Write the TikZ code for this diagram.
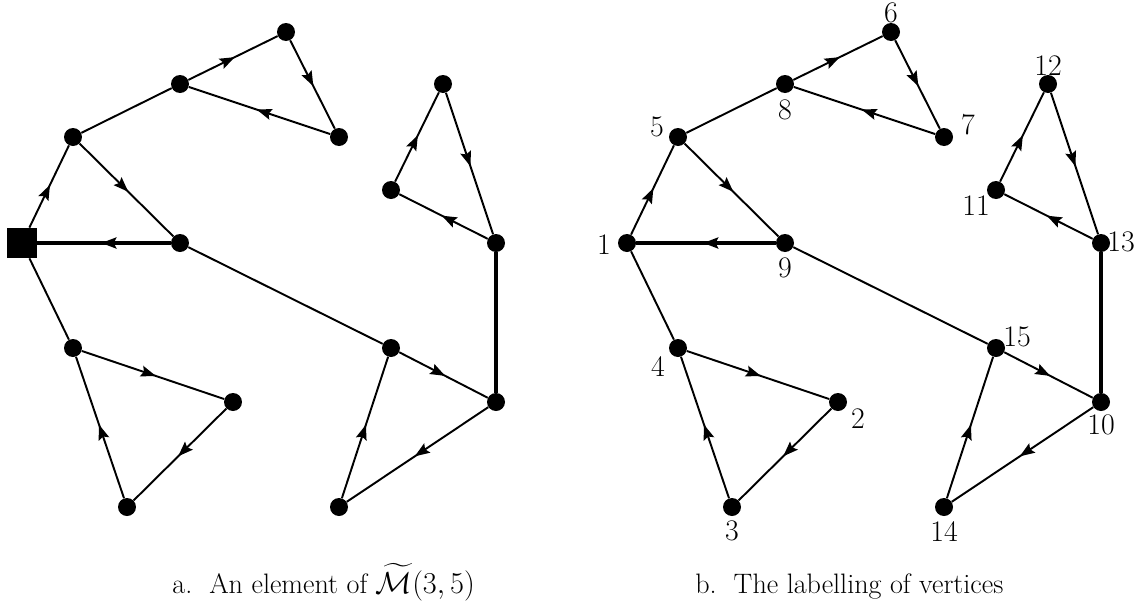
\documentclass[tikz,border=0pt]{standalone}
\usepackage{amsmath,amssymb}
\usetikzlibrary{arrows.meta,decorations.markings}
\tikzset{
  dot/.style={circle,fill=black,inner sep=0pt,minimum size=0.36cm},
  root/.style={rectangle,fill=black,inner sep=0pt,minimum size=0.6cm},
  edge/.style={line width=1.1pt},
  heavy/.style={line width=2.4pt},
  midarrow/.style={postaction={decorate},decoration={markings,
      mark=at position 0.52 with {\arrow{Stealth[length=0.3cm,width=0.22cm,inset=0.05cm]}}}},
  lab/.style={inner sep=0pt,font=\fontsize{17}{20}\selectfont},
  captext/.style={inner sep=0pt,anchor=base west,font=\fontsize{16}{19}\selectfont}
}
\begin{document}
\begin{tikzpicture}[x=0.02cm,y=-0.02cm]
\useasboundingbox (0,0) rectangle (1144,609);
% ---------- left graph ----------
\node[root] (S) at (22,243) {};
\node[dot] (A) at (73,137) {};
\node[dot] (B) at (180,84) {};
\node[dot] (C) at (286,32) {};
\node[dot] (D) at (339,137) {};
\node[dot] (E) at (180,243) {};
\node[dot] (F) at (73,348) {};
\node[dot] (G) at (233,402) {};
\node[dot] (H) at (127,507) {};
\node[dot] (I) at (391,190) {};
\node[dot] (J) at (443,84) {};
\node[dot] (K) at (496,243) {};
\node[dot] (L) at (391,348) {};
\node[dot] (M) at (496,402) {};
\node[dot] (N) at (339,507) {};
\draw[edge,midarrow] (S) -- (A);
\draw[edge] (A) -- (B);
\draw[edge,midarrow] (B) -- (C);
\draw[edge,midarrow] (C) -- (D);
\draw[edge,midarrow] (D) -- (B);
\draw[edge,midarrow] (A) -- (E);
\draw[heavy,midarrow] (E) -- (S);
\draw[edge] (E) -- (L);
\draw[edge,midarrow] (L) -- (M);
\draw[edge] (S) -- (F);
\draw[edge,midarrow] (F) -- (G);
\draw[edge,midarrow] (G) -- (H);
\draw[edge,midarrow] (H) -- (F);
\draw[edge,midarrow] (M) -- (N);
\draw[edge,midarrow] (N) -- (L);
\draw[heavy] (M) -- (K);
\draw[edge,midarrow] (K) -- (I);
\draw[edge,midarrow] (I) -- (J);
\draw[edge,midarrow] (J) -- (K);
% ---------- right graph ----------
\node[dot] (v1) at (627,243) {};
\node[dot] (v5) at (678,137) {};
\node[dot] (v8) at (785,84) {};
\node[dot] (v6) at (891,32) {};
\node[dot] (v7) at (944,137) {};
\node[dot] (v9) at (785,243) {};
\node[dot] (v4) at (678,348) {};
\node[dot] (v2) at (838,402) {};
\node[dot] (v3) at (732,507) {};
\node[dot] (v11) at (996,190) {};
\node[dot] (v12) at (1048,84) {};
\node[dot] (v13) at (1101,243) {};
\node[dot] (v15) at (996,348) {};
\node[dot] (v10) at (1101,402) {};
\node[dot] (v14) at (944,507) {};
\draw[edge,midarrow] (v1) -- (v5);
\draw[edge] (v5) -- (v8);
\draw[edge,midarrow] (v8) -- (v6);
\draw[edge,midarrow] (v6) -- (v7);
\draw[edge,midarrow] (v7) -- (v8);
\draw[edge,midarrow] (v5) -- (v9);
\draw[heavy,midarrow] (v9) -- (v1);
\draw[edge] (v9) -- (v15);
\draw[edge,midarrow] (v15) -- (v10);
\draw[edge] (v1) -- (v4);
\draw[edge,midarrow] (v4) -- (v2);
\draw[edge,midarrow] (v2) -- (v3);
\draw[edge,midarrow] (v3) -- (v4);
\draw[edge,midarrow] (v10) -- (v14);
\draw[edge,midarrow] (v14) -- (v15);
\draw[heavy] (v10) -- (v13);
\draw[edge,midarrow] (v13) -- (v11);
\draw[edge,midarrow] (v11) -- (v12);
\draw[edge,midarrow] (v12) -- (v13);
% ---------- vertex labels ----------
\node[lab] (t1) at (604,245) {1};
\node[lab] (t5) at (657,127) {5};
\node[lab] (t8) at (785,110) {8};
\node[lab] (t6) at (891,13) {6};
\node[lab] (t7) at (968,125) {7};
\node[lab] (t9) at (785,268) {9};
\node[lab] (t4) at (658,367) {4};
\node[lab] (t2) at (858,419) {2};
\node[lab] (t3) at (732,531) {3};
\node[lab] (t11) at (976,206) {11};
\node[lab] (t12) at (1048,66) {12};
\node[lab] (t13) at (1121,242) {13};
\node[lab] (t15) at (1017,337) {15};
\node[lab] (t10) at (1101,425) {10};
\node[lab] (t14) at (944,532) {14};
% ---------- captions ----------
\node[captext] (capa) at (172,593) {a.\ \ An element of $\widetilde{\mathcal{M}}(3,5)$};
\node[captext] (capb) at (695,593) {b.\ \ The labelling of vertices};
\end{tikzpicture}
\end{document}
